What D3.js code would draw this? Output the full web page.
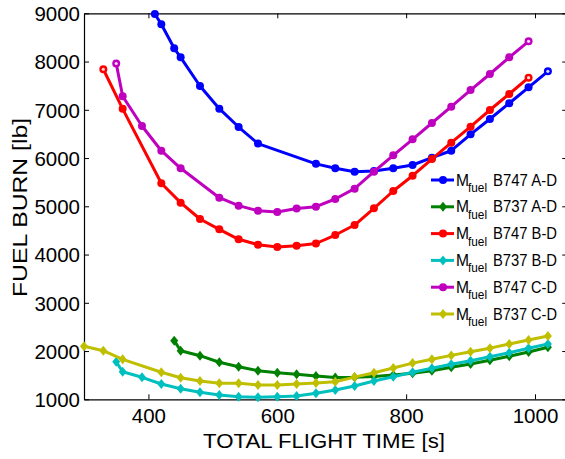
<!DOCTYPE html>
<html>
<head>
<meta charset="utf-8">
<script src="https://cdn.jsdelivr.net/npm/d3@7"></script>
<style>
  html, body { margin: 0; padding: 0; background: #fff; }
  svg { display: block; }
  text { font-family: "Liberation Sans", Arial, sans-serif; fill: #000; }
</style>
</head>
<body>
<svg id="chart" width="565" height="459"></svg>
<script>
// Fuel burn vs. total flight time for each aircraft / route
const timeB747AD = [410,420,440,450,480,510,540,570,660,690,720,750,780,810,840,870,900,930,960,990,1020];
const fuelB747AD = [8985,8772,8275,8088,7493,7023,6643,6300,5880,5788,5717,5731,5788,5856,6007,6152,6492,6809,7135,7466,7798];

const timeB737AD = [440,450,480,510,540,570,600,630,660,690,720,750,780,810,840,870,900,930,960,990,1020];
const fuelB737AD = [2215,2007,1904,1767,1676,1593,1551,1518,1483,1452,1455,1475,1505,1539,1593,1663,1731,1808,1891,1980,2078];

const timeB747BD = [330,360,420,450,480,510,540,570,600,630,660,690,720,750,780,810,840,870,900,930,960,990];
const fuelB747BD = [7840,7020,5477,5075,4737,4523,4316,4204,4156,4183,4229,4405,4612,4959,5317,5634,5980,6318,6650,6996,7327,7665];

const timeB737BD = [350,360,390,420,450,480,510,540,570,600,630,660,690,720,750,780,810,840,870,900,930,960,990,1020];
const fuelB737BD = [1779,1572,1456,1317,1220,1145,1089,1054,1041,1054,1068,1124,1192,1275,1379,1468,1560,1642,1725,1800,1883,1966,2057,2146];

const timeB747CD = [350,360,390,420,450,510,540,570,600,630,660,690,720,750,780,810,840,870,900,930,960,990];
const fuelB747CD = [7960,7280,6664,6152,5788,5178,5013,4909,4882,4954,4992,5151,5365,5717,6057,6389,6726,7064,7410,7742,8088,8420];

const timeB737CD = [300,330,360,420,450,480,510,540,570,600,630,660,690,720,750,780,810,840,870,900,930,960,990,1020];
const fuelB737CD = [2100,2007,1829,1560,1448,1379,1332,1332,1296,1296,1317,1338,1365,1460,1550,1650,1750,1830,1910,1985,2060,2145,2230,2310];

const seriesNames = ["B747 A-D","B737 A-D","B747 B-D","B737 B-D","B747 C-D","B737 C-D"];
const seriesColors = ["#0000ff","#008000","#ff0000","#00bfbf","#bf00bf","#bfbf00"];
const seriesMarkers = ["circle","diamond","circle","diamond","circle","diamond"];
// end points drawn with an open centre: [first, last]
const seriesOpenEnds = [[false,true],[false,false],[true,true],[false,false],[true,true],[false,false]];

const xTicks = [400,600,800,1000];
const yTicks = [1000,2000,3000,4000,5000,6000,7000,8000,9000];

const series = [
  [timeB747AD, fuelB747AD],
  [timeB737AD, fuelB737AD],
  [timeB747BD, fuelB747BD],
  [timeB737BD, fuelB737BD],
  [timeB747CD, fuelB747CD],
  [timeB737CD, fuelB737CD]
].map(([t, f], i) => ({
  name: seriesNames[i],
  color: seriesColors[i],
  marker: seriesMarkers[i],
  openEnds: seriesOpenEnds[i],
  points: t.map((v, j) => ({x: v, y: f[j]}))
}));

const svg = d3.select("#chart");
const plotLeft = 84, plotTop = 13.3, plotBottom = 399.3;
const x = d3.scaleLinear().domain([300, 1050]).range([plotLeft, plotLeft + 750 * 0.6443]);
const y = d3.scaleLinear().domain([1000, 9000]).range([plotBottom, plotTop]);
const plotRight = x(1050);

// Axes frame with inward ticks on all four sides
const tickLen = 5;
const axB = svg.append("g").attr("transform", `translate(0,${plotBottom})`)
  .call(d3.axisBottom(x).tickValues(xTicks).tickSizeInner(-tickLen).tickSizeOuter(0).tickPadding(9).tickFormat(d3.format("d")));
const axT = svg.append("g").attr("transform", `translate(0,${plotTop})`)
  .call(d3.axisTop(x).tickValues(xTicks).tickSizeInner(-tickLen).tickSizeOuter(0).tickFormat(""));
const axL = svg.append("g").attr("transform", `translate(${plotLeft},0)`)
  .call(d3.axisLeft(y).tickValues(yTicks).tickSizeInner(-tickLen).tickSizeOuter(0).tickPadding(4).tickFormat(d3.format("d")));
const axR = svg.append("g").attr("transform", `translate(${plotRight},0)`)
  .call(d3.axisRight(y).tickValues(yTicks).tickSizeInner(-tickLen).tickSizeOuter(0).tickFormat(""));

[axB, axT, axL, axR].forEach(g => {
  g.select(".domain").attr("stroke", "#000").attr("stroke-width", 1.2);
  g.selectAll(".tick line").attr("stroke", "#000").attr("stroke-width", 1);
  g.selectAll(".tick text").attr("font-size", 20.5)
    .attr("font-family", '"Liberation Sans", Arial, sans-serif').attr("fill", "#000");
});
axB.selectAll(".tick text").attr("dy", "0.72em");
axL.selectAll(".tick text").attr("dy", "0.36em");

// Axis titles
svg.append("text").attr("x", 324).attr("y", 448).attr("text-anchor", "middle")
  .attr("font-size", 21).attr("textLength", 242).attr("lengthAdjust", "spacingAndGlyphs")
  .text("TOTAL FLIGHT TIME [s]");
svg.append("text").attr("transform", "translate(27,207.5) rotate(-90)")
  .attr("text-anchor", "middle").attr("font-size", 21)
  .attr("textLength", 179).attr("lengthAdjust", "spacingAndGlyphs")
  .text("FUEL BURN [lb]");

// Series lines and markers
const line = d3.line().x(d => x(d.x)).y(d => y(d.y));
const diamond = (cx, cy) => `M${cx},${cy - 5}L${cx + 4},${cy}L${cx},${cy + 5}L${cx - 4},${cy}Z`;

function drawMarker(g, m, cx, cy, color, open) {
  if (m === "circle") {
    g.append("circle").attr("cx", cx).attr("cy", cy).attr("r", 4).attr("fill", color);
    if (open) g.append("circle").attr("cx", cx).attr("cy", cy).attr("r", 1.6).attr("fill", "#fff").attr("opacity", 0.85);
  } else {
    g.append("path").attr("d", diamond(cx, cy)).attr("fill", color);
  }
}

series.forEach(s => {
  const g = svg.append("g");
  g.append("path").datum(s.points).attr("d", line)
    .attr("fill", "none").attr("stroke", s.color).attr("stroke-width", 3)
    .attr("stroke-linejoin", "round");
  const n = s.points.length;
  s.points.forEach((p, j) => {
    const open = (j === 0 && s.openEnds[0]) || (j === n - 1 && s.openEnds[1]);
    drawMarker(g, s.marker, x(p.x), y(p.y), s.color, open);
  });
});

// Legend
const legX = 431, legY0 = 180, legDy = 26.8;
series.forEach((s, i) => {
  const cy = legY0 + i * legDy;
  const g = svg.append("g");
  g.append("line").attr("x1", legX).attr("x2", legX + 23).attr("y1", cy).attr("y2", cy)
    .attr("stroke", s.color).attr("stroke-width", 3);
  drawMarker(g, s.marker, legX + 12, cy, s.color, false);
  g.append("text").attr("x", 456).attr("y", cy + 5.5).attr("font-size", 16.5)
    .attr("textLength", 13).attr("lengthAdjust", "spacingAndGlyphs").text("M");
  g.append("text").attr("x", 468).attr("y", cy + 12).attr("font-size", 13)
    .attr("textLength", 19).attr("lengthAdjust", "spacingAndGlyphs").text("fuel");
  g.append("text").attr("x", 493).attr("y", cy + 5.5).attr("font-size", 16)
    .attr("textLength", 64).attr("lengthAdjust", "spacingAndGlyphs").text(s.name);
});
</script>
</body>
</html>
